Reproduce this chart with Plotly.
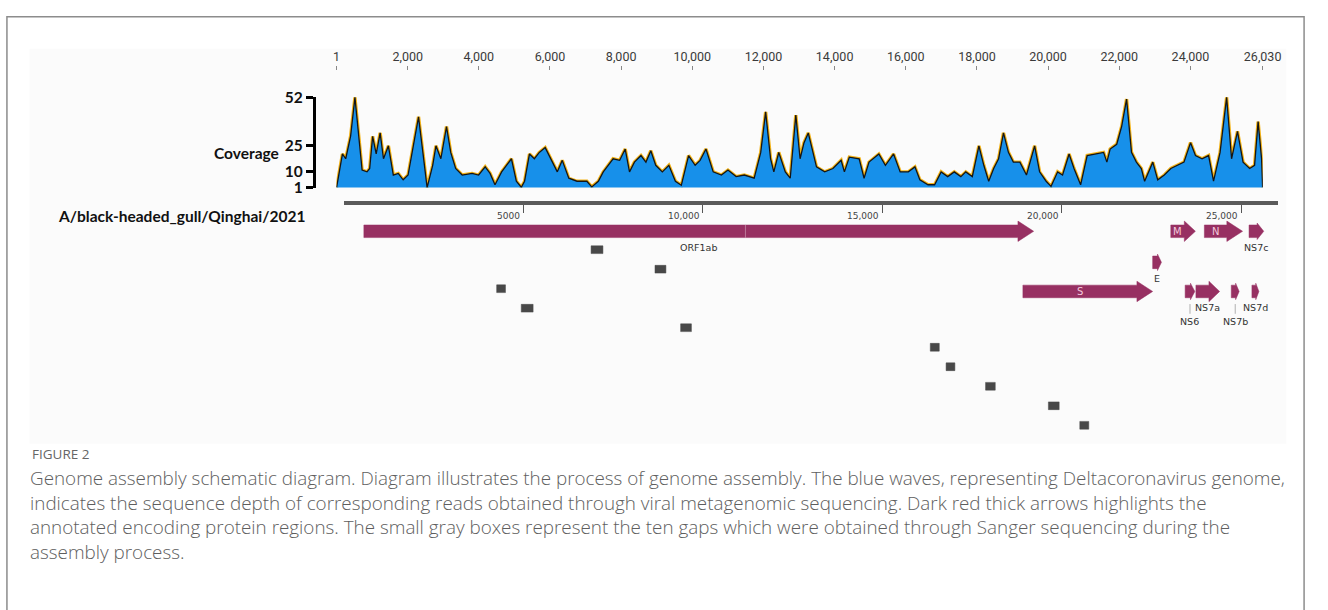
import plotly.graph_objects as go

W, H = 1328, 610

# ---------------------------------------------------------------- data
# read-depth profile along the assembled genome (position in nt, depth)
cov_pos = [1, 166, 258, 396, 517, 628, 719, 857, 932, 1015, 1115, 1226, 1320, 1458,
           1596, 1735, 1873, 2011, 2167, 2305, 2427, 2546, 2703, 2795, 2933, 3091,
           3210, 3348, 3533, 3810, 3993, 4178, 4316, 4454, 4640, 4916, 5054, 5193,
           5285, 5423, 5561, 5699, 5865, 6022, 6206, 6345, 6529, 6759, 7036, 7174,
           7359, 7497, 7774, 7958, 8114, 8235, 8373, 8557, 8696, 8834, 8972, 9157,
           9341, 9525, 9691, 9895, 10080, 10218, 10384, 10587, 10817, 11002, 11232,
           11462, 11739, 11923, 12061, 12199, 12291, 12430, 12614, 12752, 12909,
           13029, 13140, 13259, 13490, 13721, 13952, 14183, 14275, 14413, 14690,
           14828, 14966, 15243, 15427, 15657, 15842, 16072, 16257, 16395, 16625,
           16810, 16994, 17178, 17363, 17547, 17686, 17870, 18055, 18193, 18331,
           18470, 18608, 18746, 18885, 19023, 19207, 19392, 19622, 19761, 19945,
           20083, 20268, 20406, 20590, 20729, 20914, 21098, 21329, 21560, 21652,
           21744, 21929, 22067, 22206, 22344, 22482, 22621, 22713, 22943, 23081,
           23266, 23450, 23635, 23819, 24004, 24142, 24327, 24511, 24650, 24834,
           25018, 25157, 25323, 25480, 25665, 25803, 25903, 26000, 26030]
cov_depth = [1, 20.0, 17.3, 30.1, 52, 30, 10.9, 9.9, 11.8, 30, 20, 31.9, 17.3, 24.6,
             8.1, 9.0, 5.4, 8.1, 26.4, 41, 20.9, 1, 13.6, 24.6, 17.3, 35.5,
             20.9, 11.8, 8.1, 9, 8.1, 12.7, 9, 2.6, 9.9, 17.3, 4.6, 1.2,
             4.6, 20, 17.3, 20.9, 23.6, 17.3, 9.9, 16.4, 6.3, 4.6, 4.6, 1.4,
             4.6, 9.9, 17.3, 16.4, 22.8, 9.9, 15.4, 19.1, 15.4, 21.8, 13.6, 9.9,
             13.6, 4.6, 2.3, 19.1, 13.6, 16.4, 22.8, 9.9, 8.1, 10.9, 7.2,
             8.1, 6.3, 20.9, 43.8, 17.3, 9.9, 20.9, 9.9, 6.3, 42,
             17.3, 26.4, 31.9, 12.7, 9.9, 11.8, 16.4, 9.9, 18.2, 17.3,
             6.3, 15.4, 20, 13.6, 20, 9.9, 9.9, 12.7, 5.4, 2.6,
             2.6, 9.9, 7.2, 9.9, 7.2, 9.9, 7.2, 24.6, 13.6, 4.6,
             11.8, 17.3, 31.9, 20.9, 15.4, 15.4, 8.1, 24.6, 9.9, 4.6,
             1.7, 9.9, 8.1, 20, 11.8, 2.6, 19.1, 20, 20.9, 15.4,
             22.8, 25.5, 35.5, 51, 20.9, 15.4, 11.8, 4.6, 15.4, 5.4,
             8.1, 11.8, 13.6, 15.4, 26.4, 19.1, 17.3, 19.1, 4.6, 20.9,
             52, 17.3, 32.8, 15.4, 11.8, 13.6, 38.3, 17.3, 1]

genome_length = 26030
ruler_ticks = [1, 2000, 4000, 6000, 8000, 10000, 12000, 14000, 16000, 18000,
               20000, 22000, 24000, 26030]
depth_ticks = [1, 10, 25, 52]

map_ticks = [5000, 10000, 15000, 20000, 25000]
map_tick_labels = ["5000", "10,000", "15,000", "20,000", "25,000"]

strain = "A/black-headed_gull/Qinghai/2021"

# annotated coding regions (nt)
gene_names = ["ORF1ab", "S", "E", "M", "NS6", "NS7a", "N", "NS7b", "NS7c", "NS7d"]
gene_starts = [560, 18920, 22535, 23040, 23440, 23740, 23975, 24725, 25220, 25300]
gene_ends = [19220, 22535, 22780, 23725, 23710, 24400, 25040, 24945, 25630, 25495]
orf1a_end = 11190

# gaps closed by Sanger sequencing (nt), one per lane
gap_starts = [6890, 8670, 4260, 4945, 9385, 16340, 16780, 17880, 19630, 20505]
gap_ends = [7220, 8975, 4505, 5275, 9685, 16590, 17025, 18150, 19930, 20755]

caption_title = "FIGURE 2"
caption_lines = [
    "Genome assembly schematic diagram. Diagram illustrates the process of genome assembly. The blue waves, representing Deltacoronavirus genome,",
    "indicates the sequence depth of corresponding reads obtained through viral metagenomic sequencing. Dark red thick arrows highlights the",
    "annotated encoding protein regions. The small gray boxes represent the ten gaps which were obtained through Sanger sequencing during the",
    "assembly process.",
]

# ---------------------------------------------------------------- styling / layout
GENE_COLOR = "#973062"
GAP_COLOR = "#484848"
BLUE = "#1790ea"

gene_row = {"ORF1ab": 0, "M": 0, "N": 0, "NS7c": 0, "E": 1,
            "S": 2, "NS6": 2, "NS7a": 2, "NS7b": 2, "NS7d": 2}
row_offset = [27, 59, 89]          # px below the map ruler
label_mode = {"ORF1ab": "below", "M": "inside", "N": "inside", "S": "inside",
              "NS7c": "below", "E": "below", "NS7a": "below", "NS7d": "below",
              "NS6": "leader", "NS7b": "leader"}
gap_first_lane = 46
gap_lane_step = 20.1


def fx(p):
    return p / W


def fy(p):
    return 1 - p / H


map_x0, map_x1 = 346.5, 1296.6
bp_per_px = genome_length / (map_x1 - map_x0)

fig = go.Figure()

# coverage profile: yellow rim under a dark outline over the blue fill
fig.add_trace(go.Scatter(x=cov_pos, y=cov_depth, mode="lines",
                         line=dict(color="#f3b318", width=3.4),
                         xaxis="x", yaxis="y", hoverinfo="skip", showlegend=False))
fig.add_trace(go.Scatter(x=cov_pos, y=cov_depth, mode="lines", fill="tozeroy",
                         fillcolor=BLUE, line=dict(color="#151515", width=1.3),
                         xaxis="x", yaxis="y", showlegend=False))
# carrier for the depth bracket axis
fig.add_trace(go.Scatter(x=[None], y=[None], xaxis="x", yaxis="y3",
                         showlegend=False, hoverinfo="skip"))

# gene arrows
for name, s, e in zip(gene_names, gene_starts, gene_ends):
    yc = row_offset[gene_row[name]]
    length = e - s
    head = min(16 * bp_per_px, 0.45 * length)
    h = 6.5
    hh = 10.5 if length > 600 else 8.5
    xs = [s, e - head, e - head, e, e - head, e - head, s, s]
    ys = [yc - h, yc - h, yc - hh, yc, yc + hh, yc + h, yc + h, yc - h]
    fig.add_trace(go.Scatter(x=xs, y=ys, mode="lines", fill="toself",
                             fillcolor=GENE_COLOR, line=dict(color=GENE_COLOR, width=0.5),
                             xaxis="x2", yaxis="y2", showlegend=False, hoverinfo="skip"))

# ORF1a / ORF1b junction
yc0 = row_offset[gene_row["ORF1ab"]]
fig.add_trace(go.Scatter(x=[orf1a_end, orf1a_end], y=[yc0 - 6.5, yc0 + 6.5], mode="lines",
                         line=dict(color="rgba(255,255,255,0.35)", width=1),
                         xaxis="x2", yaxis="y2", showlegend=False, hoverinfo="skip"))

# Sanger gap boxes
gx, gy = [], []
for i, (s, e) in enumerate(zip(gap_starts, gap_ends)):
    yc = gap_first_lane + i * gap_lane_step
    gx += [s, e, e, s, s, None]
    gy += [yc - 4, yc - 4, yc + 4, yc + 4, yc - 4, None]
fig.add_trace(go.Scatter(x=gx, y=gy, mode="lines", fill="toself", fillcolor=GAP_COLOR,
                         line=dict(color=GAP_COLOR, width=0.5), xaxis="x2", yaxis="y2",
                         showlegend=False, hoverinfo="skip"))

annotations = []

# gene labels
label_font = dict(family="DejaVu Sans", size=9.5, color="#333333")
for name, s, e in zip(gene_names, gene_starts, gene_ends):
    yc = row_offset[gene_row[name]]
    mid = (s + e) / 2
    mode = label_mode[name]
    if mode == "inside":
        head = min(16 * bp_per_px, 0.45 * (e - s))
        annotations.append(dict(x=(s + e - head) / 2, y=yc, xref="x2", yref="y2",
                                text=name, showarrow=False,
                                font=dict(family="DejaVu Sans", size=10, color="#f4c8dc")))
    elif mode == "below":
        annotations.append(dict(x=mid, y=yc + 17, xref="x2", yref="y2", text=name,
                                showarrow=False, font=label_font))
    else:
        annotations.append(dict(x=mid, y=yc + 31, xref="x2", yref="y2", text=name,
                                showarrow=False, font=label_font))
        fig.add_trace(go.Scatter(x=[mid, mid], y=[yc + 13, yc + 23], mode="lines",
                                 line=dict(color="#b0b0b0", width=1), xaxis="x2", yaxis="y2",
                                 showlegend=False, hoverinfo="skip"))

# map ruler labels, drawn to the left of each tick
for v, t in zip(map_ticks, map_tick_labels):
    annotations.append(dict(x=v, y=4, xref="x2", yref="y2", text=t, showarrow=False,
                            xanchor="right", yanchor="top", xshift=-1,
                            font=dict(family="DejaVu Sans", size=9, color="#444444")))

annotations += [
    dict(x=fx(213), y=fy(136), xref="paper", yref="paper", text="<b>Coverage</b>",
         showarrow=False, font=dict(family="Lato", size=15.5, color="#111111")),
    dict(x=fx(309), y=fy(212), xref="paper", yref="paper", text="<b>" + strain + "</b>",
         showarrow=False, xanchor="right",
         font=dict(family="Lato", size=15.5, color="#111111")),
    dict(x=fx(27), y=fy(457), xref="paper", yref="paper", text=caption_title,
         showarrow=False, xanchor="left", yanchor="middle",
         font=dict(family="Open Sans", size=13.5, color="#666666")),
    # caption body as one multi-line block
    dict(x=fx(25), y=fy(466.5), xref="paper", yref="paper",
         text="<br>".join(caption_lines), showarrow=False, xanchor="left",
         yanchor="top", align="left",
         font=dict(family="Open Sans", size=18.85, color="#5e5e5e", weight=300)),
]

shapes = [
    dict(type="rect", xref="paper", yref="paper", x0=fx(27), x1=fx(1305),
         y0=fy(447), y1=fy(40), fillcolor="#fbfbfb", line=dict(width=0), layer="below"),
    dict(type="rect", xref="paper", yref="paper", x0=fx(4), x1=fx(1323),
         y0=-0.02, y1=fy(7), line=dict(color="#8c8c8c", width=1.5), layer="above"),
]

cov_top, cov_bot = 63, 183
px_per_depth = (183 - 90) / (52 - 1)

fig.update_layout(
    width=W, height=H, margin=dict(l=0, r=0, t=0, b=0),
    paper_bgcolor="white", plot_bgcolor="rgba(0,0,0,0)", showlegend=False,
    xaxis=dict(domain=[fx(339), fx(1281)], range=[-4, genome_length + 4], anchor="y",
               side="top", showline=False, showgrid=False, zeroline=False,
               tickvals=ruler_ticks, tickformat=",", ticks="outside", ticklen=4,
               tickcolor="#888888", tickwidth=1,
               tickfont=dict(family="Liberation Sans Narrow, Roboto", size=12.5,
                             color="#3a3a3a")),
    yaxis=dict(domain=[fy(cov_bot), fy(cov_top)],
               range=[1, 1 + (cov_bot - cov_top) / px_per_depth],
               visible=False, fixedrange=True),
    yaxis3=dict(domain=[fy(183), fy(90)], range=[1, 52], anchor="free",
                position=fx(316), side="left", showline=True, linecolor="#000000",
                linewidth=3, ticks="outside", ticklen=7, tickwidth=3,
                tickcolor="#000000", tickvals=depth_ticks, showgrid=False,
                zeroline=False,
                tickfont=dict(family="Lato", size=15.5, color="#111111", weight="bold")),
    xaxis2=dict(domain=[fx(map_x0), fx(map_x1)], range=[0, genome_length], anchor="y2",
                side="top", showline=True, linecolor="#5a5a5a", linewidth=3.5,
                ticks="inside", ticklen=8, tickcolor="#555555", tickwidth=1,
                tickvals=map_ticks, showticklabels=False, showgrid=False, zeroline=False),
    yaxis2=dict(domain=[fy(445), fy(201)], range=[244, 0], visible=False),
    annotations=annotations,
    shapes=shapes,
)

fig.write_html("out.html")
